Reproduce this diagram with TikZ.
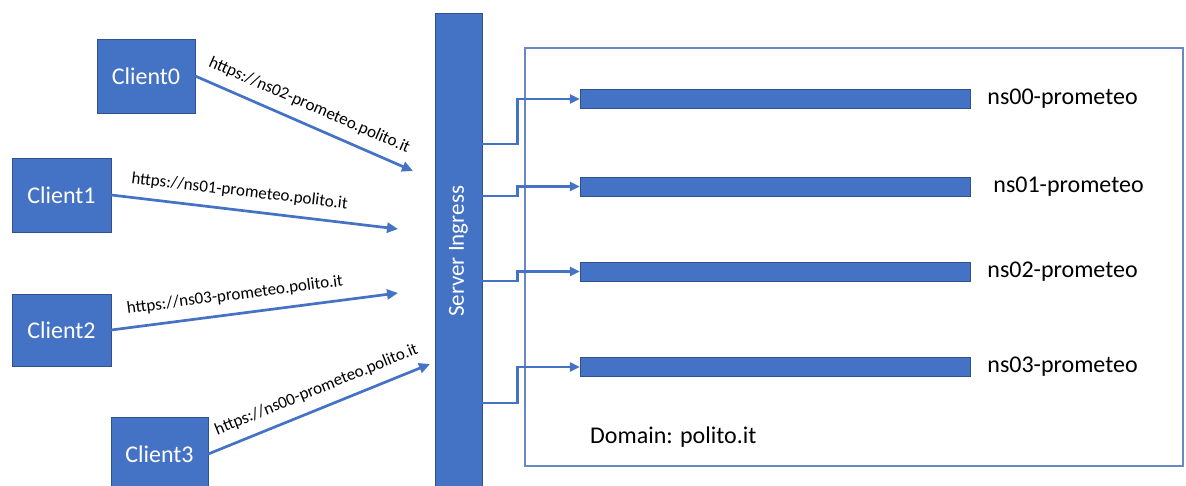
\documentclass[tikz,border=0pt]{standalone}
\usepackage{fontspec}
\setmainfont{Carlito}
\usetikzlibrary{arrows.meta, positioning}

\definecolor{officeblue}{RGB}{68,114,196}
\definecolor{edgeblue}{RGB}{47,82,143}
\definecolor{frameblue}{RGB}{105,135,192}

\tikzset{
	client/.style = {draw = edgeblue, fill = officeblue, text = white, inner sep = 0pt,
		minimum width = 98pt, minimum height = 74pt, font = \fontsize{24}{28}\selectfont},
	nsbar/.style = {draw = edgeblue, fill = officeblue, inner sep = 0pt,
		minimum width = 390pt, minimum height = 19pt},
	nslabel/.style = {inner sep = 0pt, font = \fontsize{24}{28}\selectfont},
	url/.style = {sloped, above = 8pt, inner sep = 2pt, text = black, font = \fontsize{17}{20}\selectfont},
	req/.style = {officeblue, line width = 2.7pt, -{Triangle[length = 11pt, width = 10pt]}},
	route/.style = {officeblue, line width = 2.7pt, -{Triangle[length = 10pt, width = 9pt]}}
}

\begin{document}
\begin{tikzpicture}[x = 1pt, y = -1pt]
	\useasboundingbox (0,0) rectangle (1186,486);

	% domain frame and ingress
	\node [draw = frameblue, line width = 1.2pt, inner sep = 0pt,
		minimum width = 658pt, minimum height = 418pt] (domain) at (854,257) {};
	\node [anchor = west, nslabel] (domname) at (590,437) {Domain: polito.it};
	\node [draw = edgeblue, fill = officeblue, text = white, rotate = 90, inner sep = 0pt,
		minimum width = 477pt, minimum height = 47pt, font = \fontsize{23}{27}\selectfont]
		(ingress) at (458.5,251.5) {Server Ingress};

	% clients
	\node [client] (client0) at (146,76) {Client0};
	\node [client, minimum width = 99pt] (client1) at (61.5,195) {Client1};
	\node [client, minimum width = 99pt, minimum height = 72pt] (client2) at (61.5,330) {Client2};
	\node [client, minimum width = 97pt] (client3) at (159.5,454) {Client3};

	\coordinate (tip0) at (413,171);
	\coordinate (tip1) at (398,229);
	\coordinate (tip2) at (398,293);
	\coordinate (tip3) at (430,364);

	\draw [req] (client0.east) -- (tip0) node [url, pos = 0.49] {https://ns02-prometeo.polito.it};
	\draw [req] (client1.east) -- (tip1) node [url, pos = 0.44] {https://ns01-prometeo.polito.it};
	\draw [req] (client2.east) -- (tip2) node [url, pos = 0.44] {https://ns03-prometeo.polito.it};
	\draw [req] (client3.east) -- (tip3) node [url, pos = 0.52] {https://ns00-prometeo.polito.it};

	% namespaces
	\foreach \i/\y in {0/99, 1/186.5, 2/271.5, 3/367}
		\node [nsbar] (bar\i) at (775,\y) {};

	\node [nslabel, right = 17pt of bar0] (ns0) {ns00-prometeo};
	\node [nslabel, right = 23pt of bar1] (ns1) {ns01-prometeo};
	\node [nslabel, right = 17pt of bar2] (ns2) {ns02-prometeo};
	\node [nslabel, right = 17pt of bar3] (ns3) {ns03-prometeo};

	\draw [route] (ingress.south |- 0,144) -- ++(35,0) |- (bar0.west);
	\draw [route] (ingress.south |- 0,196) -- ++(35,0) |- (bar1.west);
	\draw [route] (ingress.south |- 0,281) -- ++(35,0) |- (bar2.west);
	\draw [route] (ingress.south |- 0,403) -- ++(35,0) |- (bar3.west);
\end{tikzpicture}
\end{document}
